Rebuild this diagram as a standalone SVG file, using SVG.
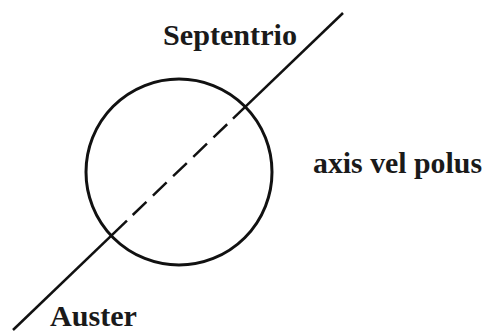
<svg xmlns="http://www.w3.org/2000/svg" width="484" height="332" viewBox="0 0 484 332">
<style>
.ln{stroke:#111;stroke-width:2.5;fill:none;stroke-linecap:butt}
.lbl{font-family:"Liberation Serif","Times New Roman",serif;font-weight:bold;font-size:29px;fill:#1a1a1a}
</style>
<rect width="484" height="332" fill="#fff"/>
<g id="sphere">
<circle cx="179" cy="172" r="93" fill="none" stroke="#111" stroke-width="3"/>
</g>
<g id="connectors">
<line class="ln" x1="13" y1="330" x2="126.95" y2="220.54"/>
<line class="ln" x1="132.72" y1="215" x2="227.2" y2="124.24" stroke-dasharray="19 9"/>
<line class="ln" x1="232.97" y1="118.7" x2="343" y2="13"/>
</g>
<g id="label-septentrio"><text class="lbl" x="163" y="45" textLength="134" lengthAdjust="spacingAndGlyphs">Septentrio</text></g>
<g id="label-axis"><text class="lbl" x="313" y="173" textLength="169" lengthAdjust="spacingAndGlyphs">axis vel polus</text></g>
<g id="label-auster"><text class="lbl" x="50" y="326" textLength="87" lengthAdjust="spacingAndGlyphs">Auster</text></g>
</svg>
